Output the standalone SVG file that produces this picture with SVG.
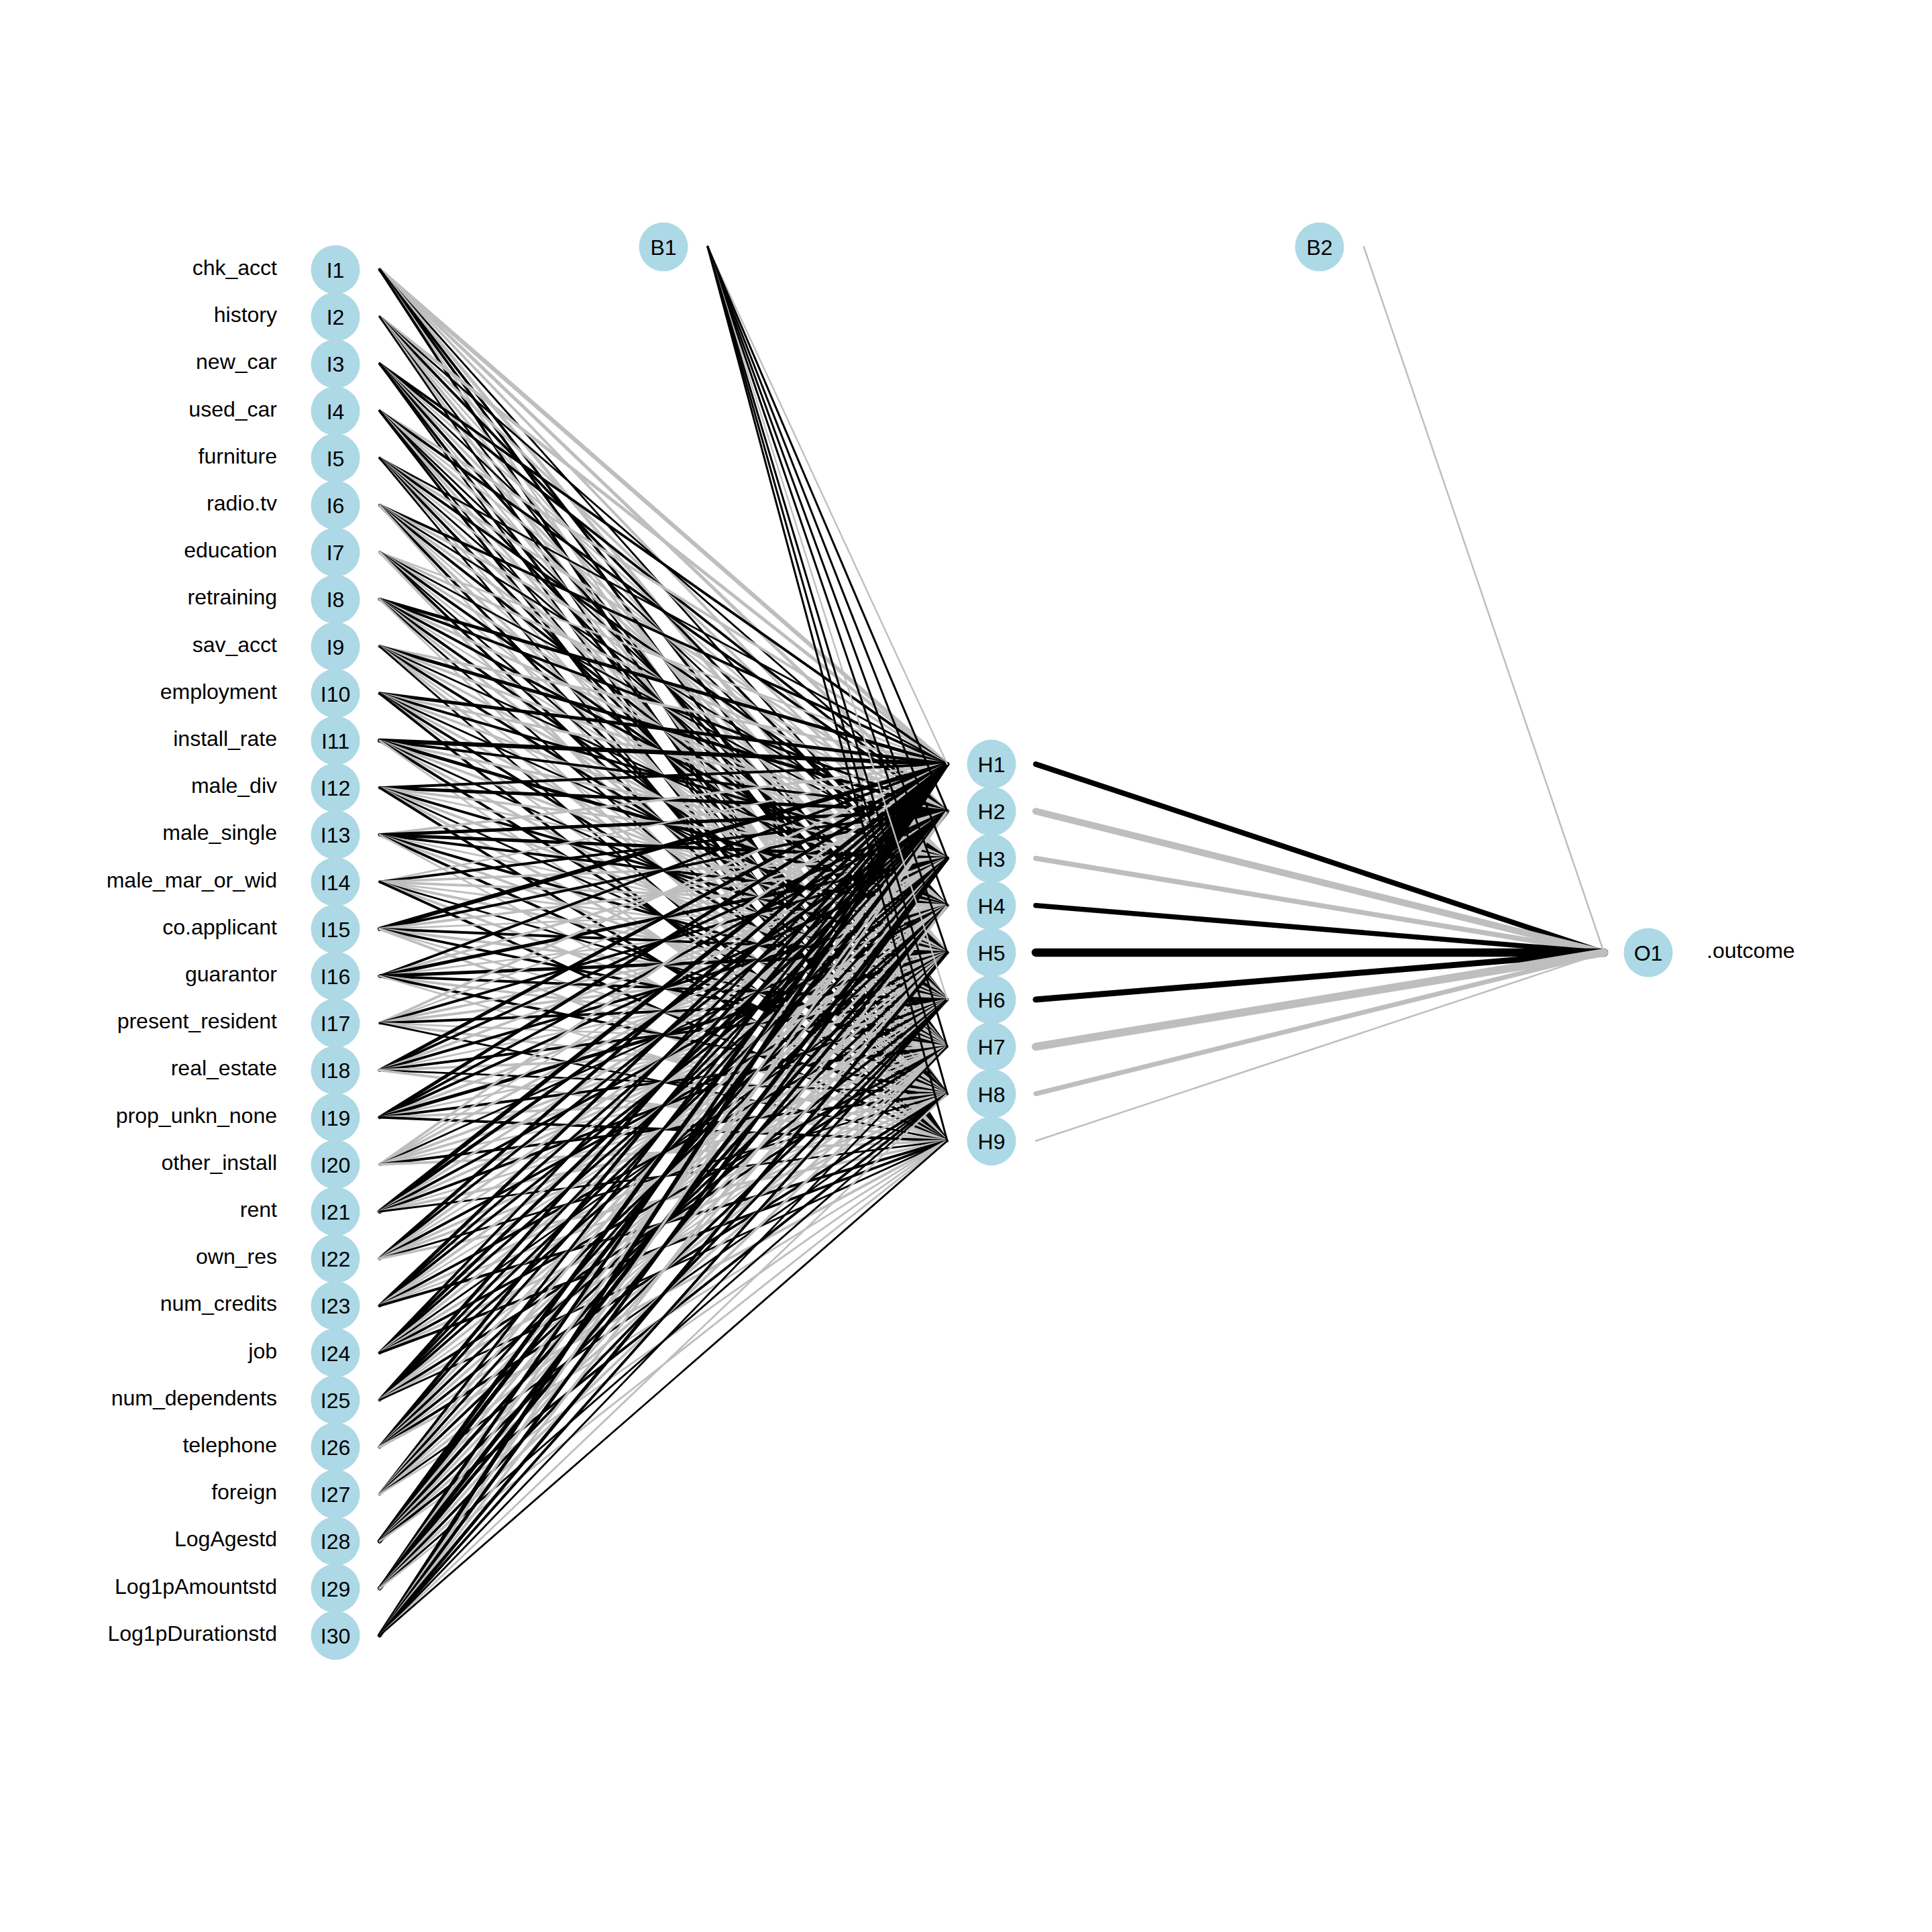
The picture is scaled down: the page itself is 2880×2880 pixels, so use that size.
<svg xmlns="http://www.w3.org/2000/svg" width="2880" height="2880" viewBox="0 0 2880 2880">
<style>
rect.bg{fill:#fff}
.node circle{fill:#ADD8E6}
text{font-family:"Liberation Sans",Arial,Helvetica,sans-serif;font-size:32px;fill:#000}
.nl{text-anchor:middle}
.lab{text-anchor:end}
#connectors path{fill:none;stroke-linecap:round}
.b{stroke:#000}
.g{stroke:#BEBEBE}
.w2{stroke-width:2.8}
.w3{stroke-width:3.9}
.w4{stroke-width:5}
.w5{stroke-width:6.3}
</style>
<rect class="bg" x="0" y="0" width="2880" height="2880"/>
<g id="connectors">
<g id="input-hidden">
<path class="g w5" d="M566 402L1412 1139.1"/><path class="g w4" d="M566 402L1412 1209.3"/><path class="g w3" d="M566 402L1412 1279.5"/><path class="b w2" d="M566 402L1412 1349.7"/><path class="g w4" d="M566 402L1412 1419.9"/><path class="b w3" d="M566 402L1412 1490.1"/><path class="b w3" d="M566 402L1412 1560.3"/><path class="g w2" d="M566 402L1412 1630.5"/><path class="b w3" d="M566 402L1412 1700.7"/>
<path class="g w4" d="M566 472.2L1412 1139.1"/><path class="b w2" d="M566 472.2L1412 1209.3"/><path class="g w3" d="M566 472.2L1412 1279.5"/><path class="b w3" d="M566 472.2L1412 1349.7"/><path class="g w2" d="M566 472.2L1412 1419.9"/><path class="g w3" d="M566 472.2L1412 1490.1"/><path class="b w2" d="M566 472.2L1412 1560.3"/><path class="g w3" d="M566 472.2L1412 1630.5"/><path class="b w2" d="M566 472.2L1412 1700.7"/>
<path class="b w3" d="M566 542.4L1412 1139.1"/><path class="b w3" d="M566 542.4L1412 1209.3"/><path class="g w2" d="M566 542.4L1412 1279.5"/><path class="b w2" d="M566 542.4L1412 1349.7"/><path class="g w3" d="M566 542.4L1412 1419.9"/><path class="b w3" d="M566 542.4L1412 1490.1"/><path class="g w2" d="M566 542.4L1412 1560.3"/><path class="b w3" d="M566 542.4L1412 1630.5"/><path class="b w2" d="M566 542.4L1412 1700.7"/>
<path class="g w3" d="M566 612.6L1412 1139.1"/><path class="b w3" d="M566 612.6L1412 1209.3"/><path class="g w2" d="M566 612.6L1412 1279.5"/><path class="g w3" d="M566 612.6L1412 1349.7"/><path class="b w2" d="M566 612.6L1412 1419.9"/><path class="b w3" d="M566 612.6L1412 1490.1"/><path class="g w3" d="M566 612.6L1412 1560.3"/><path class="b w2" d="M566 612.6L1412 1630.5"/><path class="b w3" d="M566 612.6L1412 1700.7"/>
<path class="b w2" d="M566 682.8L1412 1139.1"/><path class="g w3" d="M566 682.8L1412 1209.3"/><path class="b w3" d="M566 682.8L1412 1279.5"/><path class="g w2" d="M566 682.8L1412 1349.7"/><path class="b w2" d="M566 682.8L1412 1419.9"/><path class="g w3" d="M566 682.8L1412 1490.1"/><path class="b w3" d="M566 682.8L1412 1560.3"/><path class="g w2" d="M566 682.8L1412 1630.5"/><path class="b w2" d="M566 682.8L1412 1700.7"/>
<path class="b w3" d="M566 753L1412 1139.1"/><path class="g w3" d="M566 753L1412 1209.3"/><path class="b w2" d="M566 753L1412 1279.5"/><path class="g w3" d="M566 753L1412 1349.7"/><path class="b w3" d="M566 753L1412 1419.9"/><path class="g w2" d="M566 753L1412 1490.1"/><path class="g w3" d="M566 753L1412 1560.3"/><path class="b w3" d="M566 753L1412 1630.5"/><path class="g w2" d="M566 753L1412 1700.7"/>
<path class="g w2" d="M566 823.2L1412 1139.1"/><path class="g w3" d="M566 823.2L1412 1209.3"/><path class="b w2" d="M566 823.2L1412 1279.5"/><path class="g w3" d="M566 823.2L1412 1349.7"/><path class="b w3" d="M566 823.2L1412 1419.9"/><path class="g w2" d="M566 823.2L1412 1490.1"/><path class="b w2" d="M566 823.2L1412 1560.3"/><path class="b w3" d="M566 823.2L1412 1630.5"/><path class="g w3" d="M566 823.2L1412 1700.7"/>
<path class="b w4" d="M566 893.4L1412 1139.1"/><path class="b w3" d="M566 893.4L1412 1209.3"/><path class="g w3" d="M566 893.4L1412 1279.5"/><path class="b w3" d="M566 893.4L1412 1349.7"/><path class="g w2" d="M566 893.4L1412 1419.9"/><path class="b w3" d="M566 893.4L1412 1490.1"/><path class="g w3" d="M566 893.4L1412 1560.3"/><path class="b w2" d="M566 893.4L1412 1630.5"/><path class="g w2" d="M566 893.4L1412 1700.7"/>
<path class="g w3" d="M566 963.6L1412 1139.1"/><path class="b w4" d="M566 963.6L1412 1209.3"/><path class="g w3" d="M566 963.6L1412 1279.5"/><path class="b w2" d="M566 963.6L1412 1349.7"/><path class="g w3" d="M566 963.6L1412 1419.9"/><path class="b w3" d="M566 963.6L1412 1490.1"/><path class="g w2" d="M566 963.6L1412 1560.3"/><path class="g w3" d="M566 963.6L1412 1630.5"/><path class="b w2" d="M566 963.6L1412 1700.7"/>
<path class="b w4" d="M566 1033.8L1412 1139.1"/><path class="g w3" d="M566 1033.8L1412 1209.3"/><path class="b w3" d="M566 1033.8L1412 1279.5"/><path class="g w3" d="M566 1033.8L1412 1349.7"/><path class="b w2" d="M566 1033.8L1412 1419.9"/><path class="g w3" d="M566 1033.8L1412 1490.1"/><path class="b w3" d="M566 1033.8L1412 1560.3"/><path class="g w2" d="M566 1033.8L1412 1630.5"/><path class="b w3" d="M566 1033.8L1412 1700.7"/>
<path class="b w5" d="M566 1104L1412 1139.1"/><path class="b w3" d="M566 1104L1412 1209.3"/><path class="g w3" d="M566 1104L1412 1279.5"/><path class="b w4" d="M566 1104L1412 1349.7"/><path class="g w3" d="M566 1104L1412 1419.9"/><path class="b w2" d="M566 1104L1412 1490.1"/><path class="g w3" d="M566 1104L1412 1560.3"/><path class="b w3" d="M566 1104L1412 1630.5"/><path class="g w2" d="M566 1104L1412 1700.7"/>
<path class="b w3" d="M566 1174.2L1412 1139.1"/><path class="b w4" d="M566 1174.2L1412 1209.3"/><path class="g w3" d="M566 1174.2L1412 1279.5"/><path class="g w2" d="M566 1174.2L1412 1349.7"/><path class="b w3" d="M566 1174.2L1412 1419.9"/><path class="g w3" d="M566 1174.2L1412 1490.1"/><path class="b w2" d="M566 1174.2L1412 1560.3"/><path class="g w3" d="M566 1174.2L1412 1630.5"/><path class="b w3" d="M566 1174.2L1412 1700.7"/>
<path class="g w3" d="M566 1244.4L1412 1139.1"/><path class="b w4" d="M566 1244.4L1412 1209.3"/><path class="b w4" d="M566 1244.4L1412 1279.5"/><path class="b w3" d="M566 1244.4L1412 1349.7"/><path class="g w2" d="M566 1244.4L1412 1419.9"/><path class="b w3" d="M566 1244.4L1412 1490.1"/><path class="g w3" d="M566 1244.4L1412 1560.3"/><path class="b w3" d="M566 1244.4L1412 1630.5"/><path class="g w2" d="M566 1244.4L1412 1700.7"/>
<path class="g w2" d="M566 1314.6L1412 1139.1"/><path class="b w3" d="M566 1314.6L1412 1209.3"/><path class="g w3" d="M566 1314.6L1412 1279.5"/><path class="g w3" d="M566 1314.6L1412 1349.7"/><path class="g w2" d="M566 1314.6L1412 1419.9"/><path class="g w3" d="M566 1314.6L1412 1490.1"/><path class="b w2" d="M566 1314.6L1412 1560.3"/><path class="g w3" d="M566 1314.6L1412 1630.5"/><path class="b w3" d="M566 1314.6L1412 1700.7"/>
<path class="b w5" d="M566 1384.8L1412 1139.1"/><path class="b w3" d="M566 1384.8L1412 1209.3"/><path class="g w3" d="M566 1384.8L1412 1279.5"/><path class="g w2" d="M566 1384.8L1412 1349.7"/><path class="b w3" d="M566 1384.8L1412 1419.9"/><path class="g w3" d="M566 1384.8L1412 1490.1"/><path class="b w3" d="M566 1384.8L1412 1560.3"/><path class="g w2" d="M566 1384.8L1412 1630.5"/><path class="g w3" d="M566 1384.8L1412 1700.7"/>
<path class="b w3" d="M566 1455L1412 1139.1"/><path class="g w3" d="M566 1455L1412 1209.3"/><path class="b w4" d="M566 1455L1412 1279.5"/><path class="g w2" d="M566 1455L1412 1349.7"/><path class="b w4" d="M566 1455L1412 1419.9"/><path class="b w3" d="M566 1455L1412 1490.1"/><path class="g w3" d="M566 1455L1412 1560.3"/><path class="b w3" d="M566 1455L1412 1630.5"/><path class="g w2" d="M566 1455L1412 1700.7"/>
<path class="g w3" d="M566 1525.2L1412 1139.1"/><path class="g w2" d="M566 1525.2L1412 1209.3"/><path class="b w3" d="M566 1525.2L1412 1279.5"/><path class="g w3" d="M566 1525.2L1412 1349.7"/><path class="g w3" d="M566 1525.2L1412 1419.9"/><path class="b w3" d="M566 1525.2L1412 1490.1"/><path class="g w2" d="M566 1525.2L1412 1560.3"/><path class="g w3" d="M566 1525.2L1412 1630.5"/><path class="b w2" d="M566 1525.2L1412 1700.7"/>
<path class="b w4" d="M566 1595.4L1412 1139.1"/><path class="b w3" d="M566 1595.4L1412 1209.3"/><path class="g w3" d="M566 1595.4L1412 1279.5"/><path class="b w3" d="M566 1595.4L1412 1349.7"/><path class="g w2" d="M566 1595.4L1412 1419.9"/><path class="b w3" d="M566 1595.4L1412 1490.1"/><path class="g w3" d="M566 1595.4L1412 1560.3"/><path class="b w2" d="M566 1595.4L1412 1630.5"/><path class="g w3" d="M566 1595.4L1412 1700.7"/>
<path class="b w4" d="M566 1665.6L1412 1139.1"/><path class="b w3" d="M566 1665.6L1412 1209.3"/><path class="b w3" d="M566 1665.6L1412 1279.5"/><path class="g w3" d="M566 1665.6L1412 1349.7"/><path class="b w4" d="M566 1665.6L1412 1419.9"/><path class="g w2" d="M566 1665.6L1412 1490.1"/><path class="b w3" d="M566 1665.6L1412 1560.3"/><path class="g w3" d="M566 1665.6L1412 1630.5"/><path class="b w3" d="M566 1665.6L1412 1700.7"/>
<path class="g w3" d="M566 1735.8L1412 1139.1"/><path class="g w2" d="M566 1735.8L1412 1209.3"/><path class="g w3" d="M566 1735.8L1412 1279.5"/><path class="b w2" d="M566 1735.8L1412 1349.7"/><path class="g w3" d="M566 1735.8L1412 1419.9"/><path class="g w3" d="M566 1735.8L1412 1490.1"/><path class="g w2" d="M566 1735.8L1412 1560.3"/><path class="b w3" d="M566 1735.8L1412 1630.5"/><path class="g w3" d="M566 1735.8L1412 1700.7"/>
<path class="b w5" d="M566 1806L1412 1139.1"/><path class="b w4" d="M566 1806L1412 1209.3"/><path class="g w3" d="M566 1806L1412 1279.5"/><path class="b w3" d="M566 1806L1412 1349.7"/><path class="g w3" d="M566 1806L1412 1419.9"/><path class="b w3" d="M566 1806L1412 1490.1"/><path class="g w2" d="M566 1806L1412 1560.3"/><path class="g w3" d="M566 1806L1412 1630.5"/><path class="b w2" d="M566 1806L1412 1700.7"/>
<path class="b w4" d="M566 1876.2L1412 1139.1"/><path class="b w3" d="M566 1876.2L1412 1209.3"/><path class="g w3" d="M566 1876.2L1412 1279.5"/><path class="g w2" d="M566 1876.2L1412 1349.7"/><path class="b w3" d="M566 1876.2L1412 1419.9"/><path class="g w3" d="M566 1876.2L1412 1490.1"/><path class="g w3" d="M566 1876.2L1412 1560.3"/><path class="b w2" d="M566 1876.2L1412 1630.5"/><path class="g w3" d="M566 1876.2L1412 1700.7"/>
<path class="b w4" d="M566 1946.4L1412 1139.1"/><path class="b w3" d="M566 1946.4L1412 1209.3"/><path class="b w3" d="M566 1946.4L1412 1279.5"/><path class="g w3" d="M566 1946.4L1412 1349.7"/><path class="g w2" d="M566 1946.4L1412 1419.9"/><path class="b w3" d="M566 1946.4L1412 1490.1"/><path class="g w3" d="M566 1946.4L1412 1560.3"/><path class="g w2" d="M566 1946.4L1412 1630.5"/><path class="b w3" d="M566 1946.4L1412 1700.7"/>
<path class="b w3" d="M566 2016.6L1412 1139.1"/><path class="b w4" d="M566 2016.6L1412 1209.3"/><path class="b w3" d="M566 2016.6L1412 1279.5"/><path class="g w3" d="M566 2016.6L1412 1349.7"/><path class="b w2" d="M566 2016.6L1412 1419.9"/><path class="g w3" d="M566 2016.6L1412 1490.1"/><path class="b w3" d="M566 2016.6L1412 1560.3"/><path class="g w3" d="M566 2016.6L1412 1630.5"/><path class="b w3" d="M566 2016.6L1412 1700.7"/>
<path class="b w4" d="M566 2086.8L1412 1139.1"/><path class="b w3" d="M566 2086.8L1412 1209.3"/><path class="b w3" d="M566 2086.8L1412 1279.5"/><path class="b w3" d="M566 2086.8L1412 1349.7"/><path class="g w3" d="M566 2086.8L1412 1419.9"/><path class="g w2" d="M566 2086.8L1412 1490.1"/><path class="b w3" d="M566 2086.8L1412 1560.3"/><path class="g w3" d="M566 2086.8L1412 1630.5"/><path class="b w2" d="M566 2086.8L1412 1700.7"/>
<path class="b w4" d="M566 2157L1412 1139.1"/><path class="b w3" d="M566 2157L1412 1209.3"/><path class="g w3" d="M566 2157L1412 1279.5"/><path class="b w3" d="M566 2157L1412 1349.7"/><path class="g w3" d="M566 2157L1412 1419.9"/><path class="b w3" d="M566 2157L1412 1490.1"/><path class="g w2" d="M566 2157L1412 1560.3"/><path class="b w3" d="M566 2157L1412 1630.5"/><path class="g w3" d="M566 2157L1412 1700.7"/>
<path class="b w3" d="M566 2227.2L1412 1139.1"/><path class="g w3" d="M566 2227.2L1412 1209.3"/><path class="b w3" d="M566 2227.2L1412 1279.5"/><path class="g w3" d="M566 2227.2L1412 1349.7"/><path class="b w3" d="M566 2227.2L1412 1419.9"/><path class="g w2" d="M566 2227.2L1412 1490.1"/><path class="g w3" d="M566 2227.2L1412 1560.3"/><path class="b w2" d="M566 2227.2L1412 1630.5"/><path class="g w2" d="M566 2227.2L1412 1700.7"/>
<path class="b w5" d="M566 2297.4L1412 1139.1"/><path class="b w5" d="M566 2297.4L1412 1209.3"/><path class="g w3" d="M566 2297.4L1412 1279.5"/><path class="b w4" d="M566 2297.4L1412 1349.7"/><path class="g w3" d="M566 2297.4L1412 1419.9"/><path class="b w3" d="M566 2297.4L1412 1490.1"/><path class="g w3" d="M566 2297.4L1412 1560.3"/><path class="b w3" d="M566 2297.4L1412 1630.5"/><path class="g w2" d="M566 2297.4L1412 1700.7"/>
<path class="b w4" d="M566 2367.6L1412 1139.1"/><path class="g w3" d="M566 2367.6L1412 1209.3"/><path class="b w5" d="M566 2367.6L1412 1279.5"/><path class="b w4" d="M566 2367.6L1412 1349.7"/><path class="g w3" d="M566 2367.6L1412 1419.9"/><path class="b w3" d="M566 2367.6L1412 1490.1"/><path class="g w3" d="M566 2367.6L1412 1560.3"/><path class="b w2" d="M566 2367.6L1412 1630.5"/><path class="g w2" d="M566 2367.6L1412 1700.7"/>
<path class="b w5" d="M566 2437.8L1412 1139.1"/><path class="g w3" d="M566 2437.8L1412 1209.3"/><path class="b w4" d="M566 2437.8L1412 1279.5"/><path class="g w3" d="M566 2437.8L1412 1349.7"/><path class="b w4" d="M566 2437.8L1412 1419.9"/><path class="b w3" d="M566 2437.8L1412 1490.1"/><path class="b w2" d="M566 2437.8L1412 1560.3"/><path class="g w2" d="M566 2437.8L1412 1630.5"/><path class="b w2" d="M566 2437.8L1412 1700.7"/>
</g>
<g id="bias1-hidden">
<path class="g" stroke-width="2.4" d="M1055 368L1412 1139.1"/><path class="b" stroke-width="3" d="M1055 368L1412 1209.3"/><path class="b" stroke-width="3" d="M1055 368L1412 1279.5"/><path class="b" stroke-width="3" d="M1055 368L1412 1349.7"/><path class="b" stroke-width="3" d="M1055 368L1412 1419.9"/><path class="g" stroke-width="2.4" d="M1055 368L1412 1490.1"/><path class="b" stroke-width="3" d="M1055 368L1412 1560.3"/><path class="b" stroke-width="3" d="M1055 368L1412 1630.5"/><path class="b" stroke-width="3" d="M1055 368L1412 1700.7"/>
</g>
<g id="hidden-output">
<path class="b" stroke-width="8" d="M1544 1139.1L2391 1420"/>
<path class="g" stroke-width="10" d="M1544 1209.3L2391 1420"/>
<path class="g" stroke-width="7.5" d="M1544 1279.5L2391 1420"/>
<path class="b" stroke-width="7.5" d="M1544 1349.7L2391 1420"/>
<path class="b" stroke-width="12.5" d="M1544 1419.9L2391 1420"/>
<path class="b" stroke-width="9" d="M1544 1490.1L2391 1420"/>
<path class="g" stroke-width="12" d="M1544 1560.3L2391 1420"/>
<path class="g" stroke-width="7" d="M1544 1630.5L2391 1420"/>
<path class="g" stroke-width="2.5" d="M1544 1700.7L2391 1420"/>
<path class="g" stroke-width="2.5" d="M2033 368L2391 1420"/>
</g>
</g>
<g id="nodes">
<g id="I1" class="node"><circle cx="500" cy="402" r="36.5"/><text class="nl" x="500" y="414">I1</text><text class="lab" x="413" y="410">chk_acct</text></g>
<g id="I2" class="node"><circle cx="500" cy="472.2" r="36.5"/><text class="nl" x="500" y="484.2">I2</text><text class="lab" x="413" y="480.2">history</text></g>
<g id="I3" class="node"><circle cx="500" cy="542.4" r="36.5"/><text class="nl" x="500" y="554.4">I3</text><text class="lab" x="413" y="550.4">new_car</text></g>
<g id="I4" class="node"><circle cx="500" cy="612.6" r="36.5"/><text class="nl" x="500" y="624.6">I4</text><text class="lab" x="413" y="620.6">used_car</text></g>
<g id="I5" class="node"><circle cx="500" cy="682.8" r="36.5"/><text class="nl" x="500" y="694.8">I5</text><text class="lab" x="413" y="690.8">furniture</text></g>
<g id="I6" class="node"><circle cx="500" cy="753" r="36.5"/><text class="nl" x="500" y="765">I6</text><text class="lab" x="413" y="761">radio.tv</text></g>
<g id="I7" class="node"><circle cx="500" cy="823.2" r="36.5"/><text class="nl" x="500" y="835.2">I7</text><text class="lab" x="413" y="831.2">education</text></g>
<g id="I8" class="node"><circle cx="500" cy="893.4" r="36.5"/><text class="nl" x="500" y="905.4">I8</text><text class="lab" x="413" y="901.4">retraining</text></g>
<g id="I9" class="node"><circle cx="500" cy="963.6" r="36.5"/><text class="nl" x="500" y="975.6">I9</text><text class="lab" x="413" y="971.6">sav_acct</text></g>
<g id="I10" class="node"><circle cx="500" cy="1033.8" r="36.5"/><text class="nl" x="500" y="1045.8">I10</text><text class="lab" x="413" y="1041.8">employment</text></g>
<g id="I11" class="node"><circle cx="500" cy="1104" r="36.5"/><text class="nl" x="500" y="1116">I11</text><text class="lab" x="413" y="1112">install_rate</text></g>
<g id="I12" class="node"><circle cx="500" cy="1174.2" r="36.5"/><text class="nl" x="500" y="1186.2">I12</text><text class="lab" x="413" y="1182.2">male_div</text></g>
<g id="I13" class="node"><circle cx="500" cy="1244.4" r="36.5"/><text class="nl" x="500" y="1256.4">I13</text><text class="lab" x="413" y="1252.4">male_single</text></g>
<g id="I14" class="node"><circle cx="500" cy="1314.6" r="36.5"/><text class="nl" x="500" y="1326.6">I14</text><text class="lab" x="413" y="1322.6">male_mar_or_wid</text></g>
<g id="I15" class="node"><circle cx="500" cy="1384.8" r="36.5"/><text class="nl" x="500" y="1396.8">I15</text><text class="lab" x="413" y="1392.8">co.applicant</text></g>
<g id="I16" class="node"><circle cx="500" cy="1455" r="36.5"/><text class="nl" x="500" y="1467">I16</text><text class="lab" x="413" y="1463">guarantor</text></g>
<g id="I17" class="node"><circle cx="500" cy="1525.2" r="36.5"/><text class="nl" x="500" y="1537.2">I17</text><text class="lab" x="413" y="1533.2">present_resident</text></g>
<g id="I18" class="node"><circle cx="500" cy="1595.4" r="36.5"/><text class="nl" x="500" y="1607.4">I18</text><text class="lab" x="413" y="1603.4">real_estate</text></g>
<g id="I19" class="node"><circle cx="500" cy="1665.6" r="36.5"/><text class="nl" x="500" y="1677.6">I19</text><text class="lab" x="413" y="1673.6">prop_unkn_none</text></g>
<g id="I20" class="node"><circle cx="500" cy="1735.8" r="36.5"/><text class="nl" x="500" y="1747.8">I20</text><text class="lab" x="413" y="1743.8">other_install</text></g>
<g id="I21" class="node"><circle cx="500" cy="1806" r="36.5"/><text class="nl" x="500" y="1818">I21</text><text class="lab" x="413" y="1814">rent</text></g>
<g id="I22" class="node"><circle cx="500" cy="1876.2" r="36.5"/><text class="nl" x="500" y="1888.2">I22</text><text class="lab" x="413" y="1884.2">own_res</text></g>
<g id="I23" class="node"><circle cx="500" cy="1946.4" r="36.5"/><text class="nl" x="500" y="1958.4">I23</text><text class="lab" x="413" y="1954.4">num_credits</text></g>
<g id="I24" class="node"><circle cx="500" cy="2016.6" r="36.5"/><text class="nl" x="500" y="2028.6">I24</text><text class="lab" x="413" y="2024.6">job</text></g>
<g id="I25" class="node"><circle cx="500" cy="2086.8" r="36.5"/><text class="nl" x="500" y="2098.8">I25</text><text class="lab" x="413" y="2094.8">num_dependents</text></g>
<g id="I26" class="node"><circle cx="500" cy="2157" r="36.5"/><text class="nl" x="500" y="2169">I26</text><text class="lab" x="413" y="2165">telephone</text></g>
<g id="I27" class="node"><circle cx="500" cy="2227.2" r="36.5"/><text class="nl" x="500" y="2239.2">I27</text><text class="lab" x="413" y="2235.2">foreign</text></g>
<g id="I28" class="node"><circle cx="500" cy="2297.4" r="36.5"/><text class="nl" x="500" y="2309.4">I28</text><text class="lab" x="413" y="2305.4">LogAgestd</text></g>
<g id="I29" class="node"><circle cx="500" cy="2367.6" r="36.5"/><text class="nl" x="500" y="2379.6">I29</text><text class="lab" x="413" y="2375.6">Log1pAmountstd</text></g>
<g id="I30" class="node"><circle cx="500" cy="2437.8" r="36.5"/><text class="nl" x="500" y="2449.8">I30</text><text class="lab" x="413" y="2445.8">Log1pDurationstd</text></g>
<g id="B1" class="node"><circle cx="989" cy="368" r="36.5"/><text class="nl" x="989" y="380">B1</text></g>
<g id="B2" class="node"><circle cx="1967" cy="368" r="36.5"/><text class="nl" x="1967" y="380">B2</text></g>
<g id="H1" class="node"><circle cx="1478" cy="1139.1" r="36.5"/><text class="nl" x="1478" y="1151.1">H1</text></g>
<g id="H2" class="node"><circle cx="1478" cy="1209.3" r="36.5"/><text class="nl" x="1478" y="1221.3">H2</text></g>
<g id="H3" class="node"><circle cx="1478" cy="1279.5" r="36.5"/><text class="nl" x="1478" y="1291.5">H3</text></g>
<g id="H4" class="node"><circle cx="1478" cy="1349.7" r="36.5"/><text class="nl" x="1478" y="1361.7">H4</text></g>
<g id="H5" class="node"><circle cx="1478" cy="1419.9" r="36.5"/><text class="nl" x="1478" y="1431.9">H5</text></g>
<g id="H6" class="node"><circle cx="1478" cy="1490.1" r="36.5"/><text class="nl" x="1478" y="1502.1">H6</text></g>
<g id="H7" class="node"><circle cx="1478" cy="1560.3" r="36.5"/><text class="nl" x="1478" y="1572.3">H7</text></g>
<g id="H8" class="node"><circle cx="1478" cy="1630.5" r="36.5"/><text class="nl" x="1478" y="1642.5">H8</text></g>
<g id="H9" class="node"><circle cx="1478" cy="1700.7" r="36.5"/><text class="nl" x="1478" y="1712.7">H9</text></g>
<g id="O1" class="node"><circle cx="2457" cy="1420" r="36.5"/><text class="nl" x="2457" y="1432">O1</text><text x="2544" y="1428">.outcome</text></g>
</g>
</svg>
